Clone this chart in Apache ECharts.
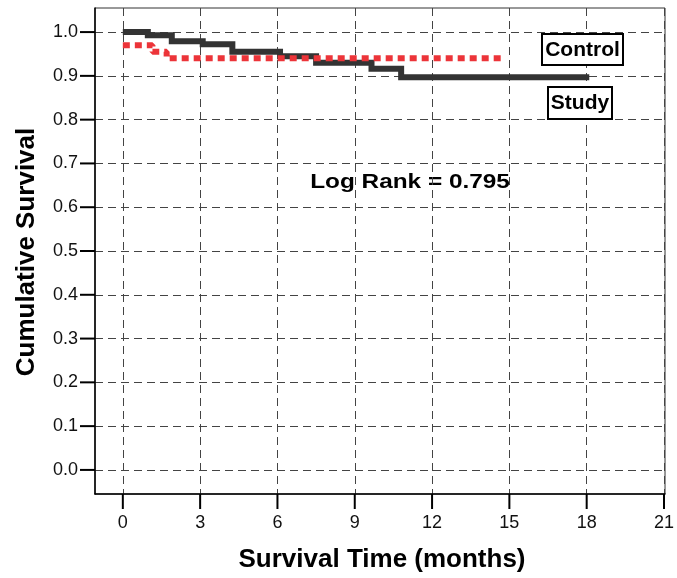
<!DOCTYPE html>
<html><head><meta charset="utf-8">
<script src="https://cdn.jsdelivr.net/npm/echarts@6/dist/echarts.min.js"></script>
<style>html,body{margin:0;padding:0;background:#fff}#c{width:677px;height:578px}</style>
</head><body><div id="c"></div>
<script>
// Data
const xTicks = [0, 3, 6, 9, 12, 15, 18, 21];
const yTicks = [0, 0.1, 0.2, 0.3, 0.4, 0.5, 0.6, 0.7, 0.8, 0.9, 1.0];
const controlTimes = [0, 0.97, 1.9, 3.1, 4.25, 6.1, 7.5, 9.65, 10.8, 18.1];
const controlSurv  = [1.0, 0.993, 0.979, 0.972, 0.955, 0.945, 0.930, 0.916, 0.897, 0.897];
const studyTimes = [0, 1.15, 1.7, 14.7];
const studySurv  = [0.97, 0.955, 0.94, 0.94];
const xTitle = 'Survival Time (months)';
const yTitle = 'Cumulative Survival';
const noteText = 'Log Rank = 0.795';
const labelControl = 'Control';
const labelStudy = 'Study';

const X_MIN = -1.08, X_MAX = 21.04, Y_MIN = -0.055, Y_MAX = 1.055;
const FONT = "'Liberation Sans', Arial, sans-serif";
const chart = echarts.init(document.getElementById('c'), null, {renderer: 'canvas'});
const gridLine = {show: true, lineStyle: {color: '#444', width: 1, type: [8, 5]}};

function tickSeries(values, horizontal) {
  return {
    type: 'custom', silent: true, clip: false, z: 1,
    data: values.map(v => horizontal ? [X_MIN, v] : [v, Y_MIN]),
    renderItem: (params, api) => {
      const p = api.coord([api.value(0), api.value(1)]);
      const shape = horizontal
        ? {x1: p[0] - 15, y1: p[1], x2: p[0], y2: p[1]}
        : {x1: p[0], y1: p[1], x2: p[0], y2: p[1] + 15};
      return {type: 'line', shape: shape, style: {stroke: '#000', lineWidth: 2}};
    }
  };
}

chart.setOption({
  animation: false,
  backgroundColor: '#fff',
  grid: {left: 95, right: 9, top: 8, bottom: 84, show: true, borderColor: '#333', borderWidth: 1},
  xAxis: {
    type: 'value', min: X_MIN, max: X_MAX,
    axisLine: {show: true, onZero: false, lineStyle: {color: '#000', width: 1.5}},
    axisTick: {show: false, customValues: xTicks},
    axisLabel: {customValues: xTicks, fontFamily: FONT, fontSize: 18, color: '#111', margin: 20},
    splitLine: gridLine
  },
  yAxis: {
    type: 'value', min: Y_MIN, max: Y_MAX,
    axisLine: {show: true, onZero: false, lineStyle: {color: '#000', width: 1.5}},
    axisTick: {show: false, customValues: yTicks},
    axisLabel: {customValues: yTicks, fontFamily: FONT, fontSize: 18, color: '#111', margin: 17,
      formatter: v => v.toFixed(1)},
    splitLine: gridLine
  },
  series: [
    tickSeries(xTicks, false),
    tickSeries(yTicks, true),
    {
      name: labelControl, type: 'line', step: 'end', symbol: 'none',
      data: controlTimes.map((t, i) => [t, controlSurv[i]]),
      lineStyle: {color: '#333', width: 6, cap: 'butt', join: 'miter'}, z: 3
    },
    {
      name: labelStudy, type: 'line', step: 'end', symbol: 'none',
      data: studyTimes.map((t, i) => [t, studySurv[i]]),
      lineStyle: {color: '#ec3439', width: 6, type: [7, 5], cap: 'butt'}, z: 4
    }
  ],
  graphic: [
    {type: 'text', x: 27, y: 252, rotation: Math.PI / 2,
      style: {text: yTitle, font: 'bold 26px ' + FONT, fill: '#000', align: 'center', verticalAlign: 'middle'}},
    {type: 'text', x: 382, y: 560,
      style: {text: xTitle, font: 'bold 26px ' + FONT, fill: '#000', align: 'center', verticalAlign: 'middle'}},
    {type: 'text', x: 410, y: 182, scaleX: 1.16,
      style: {text: noteText, font: 'bold 21px ' + FONT, fill: '#000', align: 'center', verticalAlign: 'middle'}},
    {type: 'rect', shape: {x: 542, y: 34, width: 81, height: 31}, style: {fill: '#fff', stroke: '#000', lineWidth: 2}, z: 10},
    {type: 'text', x: 582.5, y: 50, z: 11,
      style: {text: labelControl, font: 'bold 21px ' + FONT, fill: '#000', align: 'center', verticalAlign: 'middle'}},
    {type: 'rect', shape: {x: 548, y: 87, width: 64, height: 32}, style: {fill: '#fff', stroke: '#000', lineWidth: 2}, z: 10},
    {type: 'text', x: 580, y: 103.5, z: 11,
      style: {text: labelStudy, font: 'bold 21px ' + FONT, fill: '#000', align: 'center', verticalAlign: 'middle'}}
  ]
});
</script>
</body></html>
